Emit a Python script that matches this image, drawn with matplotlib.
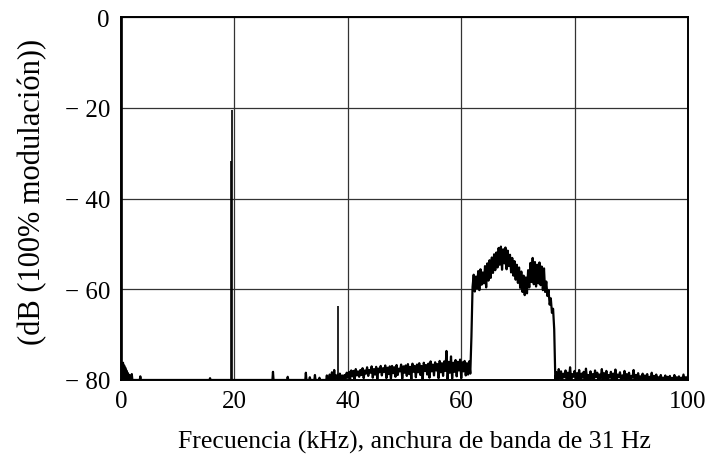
import matplotlib
matplotlib.use("Agg")
import matplotlib.pyplot as plt
import numpy as np

# discrete carriers: DC, pilot pair near 19 kHz, 38 kHz residue
spike_khz = [0.25, 19.35, 19.5, 38.3]
spike_db = [0.0, -31.7, -20.5, -63.6]

# low-frequency part of the trace (mostly on the floor)
quiet_khz = [0.0, 0.2, 0.35, 0.45, 0.55, 0.65, 0.75, 0.85, 0.95, 1.05, 1.15,
             1.25, 1.35, 1.45, 1.55, 1.8, 1.9, 2.0, 3.3, 3.4, 3.5,
             15.6, 15.7, 15.8, 26.7, 26.8, 26.9, 29.3, 29.4, 29.5,
             32.5, 32.6, 32.7, 33.2, 33.3, 33.4, 34.1, 34.2, 34.3,
             34.9, 35.0, 35.1, 36.2, 36.3, 36.4, 36.7, 36.8, 36.9,
             37.1, 37.2, 37.3, 37.5, 37.6, 37.7, 37.8, 38.0]
quiet_db = [-80.0, -80.0, -76.2, -79.5, -76.8, -79.8, -77.3, -80.0, -77.9, -80.0, -78.4,
            -80.0, -78.8, -80.0, -79.0, -80.0, -78.7, -80.0, -80.0, -79.2, -80.0,
            -80.0, -79.6, -80.0, -80.0, -78.2, -80.0, -80.0, -79.3, -80.0,
            -80.0, -78.4, -80.0, -80.0, -79.4, -80.0, -80.0, -78.9, -80.0,
            -80.0, -79.5, -80.0, -80.0, -79.0, -80.0, -80.0, -78.8, -80.0,
            -80.0, -78.3, -80.0, -80.0, -77.8, -80.0, -79.0, -79.6]

# 38 .. 100 kHz trace, one value every 0.2 kHz
band_start_khz = 38.0
band_step_khz = 0.2
band_db = [
    -79.6, -78.8, -79.8, -78.6, -79.9, -79.0, -80.0, -78.9, -79.7, -78.4,
    -79.5, -78.2, -79.8, -77.9, -79.2, -78.0, -79.9, -77.6, -79.0, -78.1,
    -79.3, -77.8, -78.9, -77.4, -79.6, -77.9, -78.6, -77.2, -79.1, -77.8,
    -78.4, -77.0, -79.5, -77.6, -78.8, -77.1, -79.8, -77.5, -78.3, -76.9,
    -79.0, -77.4, -78.2, -76.8, -79.6, -77.3, -78.7, -77.0, -79.9, -76.9,
    -78.5, -77.2, -79.3, -76.7, -78.9, -77.5, -78.1, -76.6, -79.7, -77.0,
    -78.4, -76.8, -79.1, -76.5, -78.7, -77.1, -79.8, -76.4, -78.2, -76.9,
    -79.4, -76.6, -78.3, -76.3, -78.9, -76.9, -79.9, -76.2, -78.0, -76.7,
    -78.8, -76.4, -79.5, -75.9, -78.1, -76.6, -79.0, -76.1, -77.9, -76.5,
    -79.6, -75.8, -78.3, -76.3, -79.1, -75.9, -78.0, -73.6, -79.8, -76.0,
    -78.4, -74.8, -79.7, -76.2, -78.2, -75.6, -79.2, -76.0, -77.9, -75.5,
    -79.6, -76.1, -78.1, -75.8, -79.0, -76.3, -78.8, -75.9, -78.6, -70.5,
    -59.5, -56.8, -60.5, -57.2, -59.8, -56.0, -60.2, -55.6, -59.0, -56.3,
    -58.7, -54.9, -59.6, -54.3, -58.1, -53.6, -57.5, -53.0, -56.4, -52.3,
    -55.8, -51.9, -55.2, -50.9, -54.6, -50.6, -55.7, -51.2, -54.3, -50.8,
    -55.6, -51.5, -54.9, -52.4, -56.3, -53.1, -57.0, -53.8, -57.9, -54.6,
    -58.6, -55.2, -59.7, -56.1, -60.6, -57.0, -61.3, -57.4, -60.9, -55.8,
    -59.6, -54.2, -58.4, -53.1, -58.9, -54.0, -59.4, -54.6, -58.7, -54.1,
    -59.1, -55.0, -60.2, -55.4, -60.6, -58.3, -61.5, -60.2, -63.4, -62.0,
    -65.2, -64.3, -68.8, -80.0,
    -78.3, -80.0, -77.6, -79.6, -78.1, -80.0, -78.6, -79.4, -77.9, -80.0,
    -78.4, -79.8, -77.2, -80.0, -78.7, -79.3, -78.0, -80.0, -78.5, -79.7,
    -77.8, -80.0, -78.6, -79.5, -78.2, -80.0, -77.5, -79.8, -78.9, -80.0,
    -78.1, -79.6, -78.7, -80.0, -77.9, -79.4, -78.4, -80.0, -78.8, -79.6,
    -77.6, -80.0, -78.5, -79.7, -78.0, -80.0, -78.9, -79.5, -78.2, -80.0,
    -78.6, -79.8, -77.7, -80.0, -78.8, -79.4, -78.3, -80.0, -79.0, -79.6,
    -78.0, -80.0, -78.7, -79.7, -78.4, -80.0, -79.1, -79.5, -77.8, -80.0,
    -78.9, -79.7, -78.5, -80.0, -79.2, -79.6, -78.6, -80.0, -79.0, -79.8,
    -78.7, -80.0, -79.3, -79.7, -78.4, -80.0, -79.1, -79.8, -78.8, -80.0,
    -79.4, -79.8, -78.9, -80.0, -79.5, -79.8, -79.0, -80.0, -79.3, -79.9,
    -79.1, -80.0, -79.6, -79.8, -78.9, -80.0, -79.4, -79.9, -79.2, -80.0,
    -79.5, -80.0, -78.8, -80.0, -79.4, -79.9, -79.1,
]

x_ticks = [0, 20, 40, 60, 80, 100]
y_ticks = [0, -20, -40, -60, -80]
y_tick_labels = ["0", "\u2212 20", "\u2212 40", "\u2212 60", "\u2212 80"]

plt.rcParams["font.family"] = ["Liberation Serif", "DejaVu Serif"]

fig = plt.figure(figsize=(7.09, 4.56), dpi=100)
ax = fig.add_axes([0.1707, 0.1645, 0.7997, 0.796])

band_khz = band_start_khz + band_step_khz * np.arange(len(band_db))
freq = np.concatenate([quiet_khz, band_khz])
level = np.concatenate([quiet_db, band_db])

ax.plot(freq, level, color="black", lw=1.6, zorder=3)
ax.vlines(spike_khz, -80, spike_db, color="black", lw=1.2, zorder=3)

ax.set_xlim(0, 100)
ax.set_ylim(-80, 0)
ax.set_xticks(x_ticks)
ax.set_yticks(y_ticks)
ax.set_yticklabels(y_tick_labels)
ax.tick_params(length=0, labelsize=18)
ax.tick_params(axis="x", pad=7)
ax.tick_params(axis="y", pad=8)
ax.grid(True, color="#333333", lw=0.9)
for s in ax.spines.values():
    s.set_linewidth(1.4)
    s.set_zorder(4)

ax.set_xlabel("Frecuencia (kHz), anchura de banda de 31 Hz", fontsize=18.5)
ax.set_ylabel("(dB (100% modulación))", fontsize=22)
ax.xaxis.set_label_coords(0.518, -0.138)
ax.yaxis.set_label_coords(-0.13, 0.52)

fig.savefig("out.png", dpi=100)
